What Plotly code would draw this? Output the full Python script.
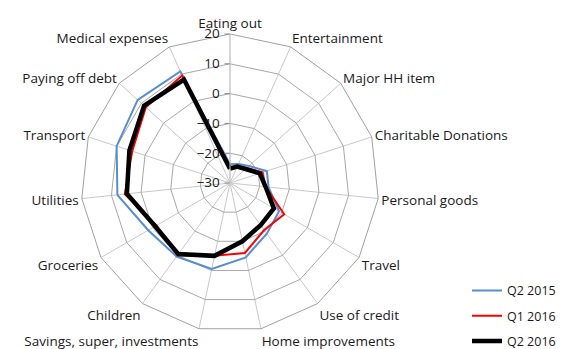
import plotly.graph_objects as go

# Spending categories, clockwise from the top of the radar
categories = [
    "Eating out", "Entertainment", "Major HH item", "Charitable Donations",
    "Personal goods", "Travel", "Use of credit", "Home improvements",
    "Savings, super, investments", "Children", "Groceries", "Utilities",
    "Transport", "Paying off debt", "Medical expenses",
]

# Net balance by category for each quarter
q2_2015 = [-23.7, -23.0, -21.5, -17.0, -17.0, -11.0, -9.0, -4.5,
           -0.5, 0.5, 1.7, 8.0, 10.0, 11.7, 11.0]
q1_2016 = [-24.5, -24.0, -22.5, -18.5, -18.0, -9.0, -10.5, -6.0,
           -5.0, 0.0, -1.5, 5.5, 4.5, 8.0, 9.5]
q2_2016 = [-25.2, -24.0, -23.0, -19.5, -18.0, -13.0, -12.5, -10.0,
           -5.0, -0.5, -1.0, 4.8, 5.5, 8.8, 8.0]

radial_ticks = [-30, -20, -10, 0, 10, 20]

series = [
    ("Q2 2015", q2_2015, "#558ED5", 2),
    ("Q1 2016", q1_2016, "#FF0000", 2),
    ("Q2 2016", q2_2016, "#000000", 4.5),
]

fig = go.Figure()
for name, vals, color, width in series:
    fig.add_trace(go.Scatterpolar(
        r=vals + vals[:1],
        theta=categories + categories[:1],
        mode="lines",
        name=name,
        legendgroup=name,
        line=dict(color=color, width=width),
    ))

font_family = "Open Sans, Noto Sans, Liberation Sans, sans-serif"

fig.update_layout(
    width=561,
    height=349,
    margin=dict(l=0, r=0, t=0, b=0, autoexpand=False),
    paper_bgcolor="white",
    plot_bgcolor="white",
    font=dict(family=font_family, size=13.5, color="#1a1a1a"),
    polar=dict(
        domain=dict(x=[0.1444, 0.6756], y=[0.0487, 0.9026]),
        bgcolor="white",
        gridshape="linear",
        angularaxis=dict(
            rotation=90,
            direction="clockwise",
            showline=True,
            linecolor="#a0a0a0",
            linewidth=1,
            gridcolor="#c8c8c8",
            gridwidth=1,
            ticks="",
            tickfont=dict(size=13.5, color="#1a1a1a"),
        ),
        radialaxis=dict(
            range=[-30, 20],
            tickvals=radial_ticks,
            angle=90,
            side="counterclockwise",
            tickangle=90,
            showline=True,
            linecolor="#c8c8c8",
            gridcolor="#a8a8a8",
            gridwidth=1,
            ticks="outside",
            ticklen=5,
            tickcolor="#888888",
            tickfont=dict(size=13.5, color="#1a1a1a"),
        ),
    ),
    legend=dict(
        x=1.0, xanchor="right",
        y=-0.0195, yanchor="bottom",
        font=dict(size=12.5, color="#1a1a1a"),
        bgcolor="rgba(0,0,0,0)",
        tracegroupgap=6,
        itemwidth=30,
    ),
    showlegend=True,
)

fig.write_html("out.html")
